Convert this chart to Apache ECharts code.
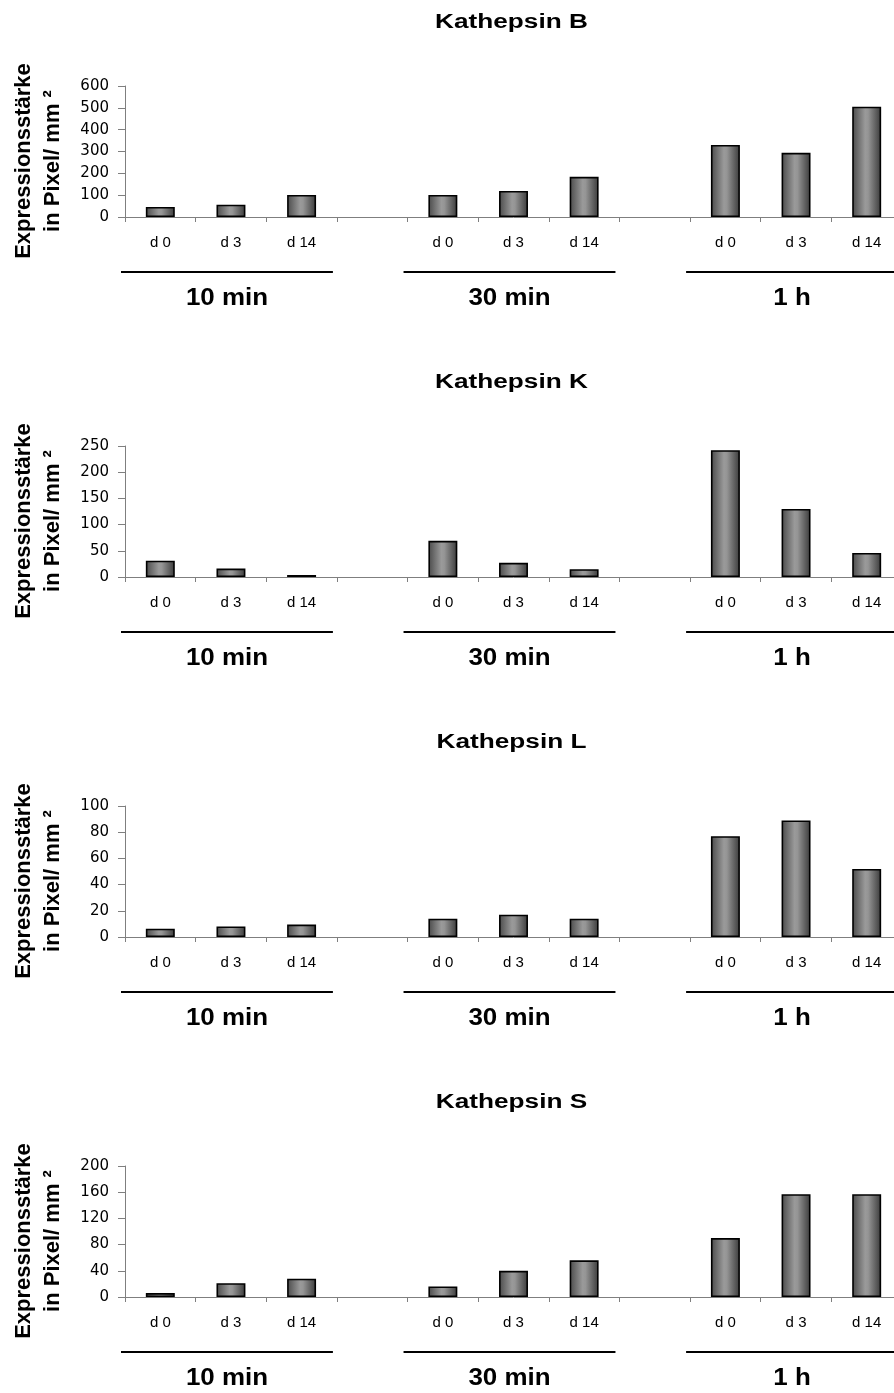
<!DOCTYPE html>
<html><head><meta charset="utf-8">
<script src="https://cdn.jsdelivr.net/npm/echarts@6/dist/echarts.min.js"></script>
<style>html,body{margin:0;padding:0;background:#fff;overflow:hidden;width:894px;height:1393px}#c{width:903px;height:1393px}</style>
</head><body><div id="c"></div>
<script>
// ---- data ----
const categories = ['d 0', 'd 3', 'd 14', '', 'd 0', 'd 3', 'd 14', '', 'd 0', 'd 3', 'd 14'];
const groupLabels = ['10 min', '30 min', '1 h'];
const groupStart = [0, 4, 8];
const titles = ['Kathepsin B', 'Kathepsin K', 'Kathepsin L', 'Kathepsin S'];
const kathepsinB = [46, 56, 101, null, 101, 119, 184, null, 330, 294, 505];
const kathepsinK = [31, 16, 4, null, 69, 27, 15, null, 242, 130, 46];
const kathepsinL = [6.3, 8, 9.5, null, 14, 17, 14, null, 77, 89, 52];
const kathepsinS = [6, 21, 28, null, 16, 40, 56, null, 90, 157, 157];
const yMax = [600, 250, 100, 200];
const yStep = [100, 50, 20, 40];
const yNameLine1 = 'Expressionsstärke';
const yNameLine2 = 'in Pixel/ mm ²';

const panelData = [kathepsinB, kathepsinK, kathepsinL, kathepsinS];

// ---- layout ----
const gridLeft = 125, gridWidth = 777, gridTop0 = 86, panelStep = 360, gridHeight = 131;
const axisColor = '#7f7f7f';
const fontSans = '"Liberation Sans", Arial, sans-serif';

const barGradient = new echarts.graphic.LinearGradient(0, 0, 1, 0, [
  { offset: 0, color: '#4a4a4a' },
  { offset: 0.45, color: '#9a9a9a' },
  { offset: 0.55, color: '#959595' },
  { offset: 1, color: '#3a3a3a' }
]);

const grids = [], xAxes = [], yAxes = [], series = [];
panelData.forEach((vals, i) => {
  grids.push({ left: gridLeft, width: gridWidth, top: gridTop0 + panelStep * i, height: gridHeight, containLabel: false });
  xAxes.push({
    type: 'category', gridIndex: i, data: categories, boundaryGap: true,
    axisLine: { lineStyle: { color: axisColor, width: 1 } },
    axisTick: { show: true, length: 5, interval: 0, lineStyle: { color: axisColor } },
    axisLabel: { interval: 0, margin: 18, fontSize: 15, color: '#000', fontFamily: fontSans },
    splitLine: { show: false }
  });
  yAxes.push({
    type: 'value', gridIndex: i, min: 0, max: yMax[i], interval: yStep[i],
    axisLine: { show: true, lineStyle: { color: axisColor, width: 1 } },
    axisTick: { show: true, length: 7, lineStyle: { color: axisColor } },
    axisLabel: { margin: 16, fontSize: 15, color: '#000', fontFamily: '"DejaVu Sans", sans-serif' },
    splitLine: { show: false }
  });
  series.push({
    type: 'bar', xAxisIndex: i, yAxisIndex: i, data: vals, barWidth: '41%',
    itemStyle: { color: barGradient, borderColor: '#000', borderWidth: 1.6 },
    animation: false, silent: true
  });
});

const chart = echarts.init(document.getElementById('c'));
chart.setOption({
  backgroundColor: '#fff',
  animation: false,
  grid: grids, xAxis: xAxes, yAxis: yAxes, series: series
});

// ---- decorations positioned through the library's scales ----
const graphics = [];
panelData.forEach((vals, i) => {
  const top = gridTop0 + panelStep * i;
  const p0 = chart.convertToPixel({ gridIndex: i }, [0, 0]);
  const p1 = chart.convertToPixel({ gridIndex: i }, [1, 0]);
  const band = p1[0] - p0[0];
  const zeroY = p0[1];
  // title
  graphics.push({
    type: 'text', x: gridLeft + gridWidth / 2 - 2, y: top - 64, scaleX: 1.31, silent: true,
    style: { text: titles[i], x: 0, y: 0, fill: '#000', font: 'bold 20px ' + fontSans,
      textAlign: 'center', textVerticalAlign: 'middle', align: 'center', verticalAlign: 'middle' }
  });
  // y axis name (two rotated lines)
  [[yNameLine1, 24], [yNameLine2, 53]].forEach(([t, x]) => {
    graphics.push({
      type: 'text', x: x, y: top + 75, rotation: Math.PI / 2, silent: true,
      style: { text: t, x: 0, y: 0, fill: '#000', font: 'bold 22px ' + fontSans,
        textAlign: 'center', textVerticalAlign: 'middle', align: 'center', verticalAlign: 'middle' }
    });
  });
  // group lines and labels
  groupStart.forEach((s, g) => {
    const a = chart.convertToPixel({ gridIndex: i }, [s, 0])[0] - band / 2;
    const b = chart.convertToPixel({ gridIndex: i }, [s + 2, 0])[0] + band / 2;
    graphics.push({
      type: 'line', silent: true,
      shape: { x1: a - 4, y1: zeroY + 55, x2: b - 4, y2: zeroY + 55 },
      style: { stroke: '#000', lineWidth: 2 }
    });
    graphics.push({
      type: 'text', x: (a + b) / 2 - 4, y: zeroY + 81, scaleX: 1.08, silent: true,
      style: { text: groupLabels[g], x: 0, y: 0, fill: '#000', font: 'bold 24px ' + fontSans,
        textAlign: 'center', textVerticalAlign: 'middle', align: 'center', verticalAlign: 'middle' }
    });
  });
});
chart.setOption({ graphic: { elements: graphics } });
</script>
</body></html>
